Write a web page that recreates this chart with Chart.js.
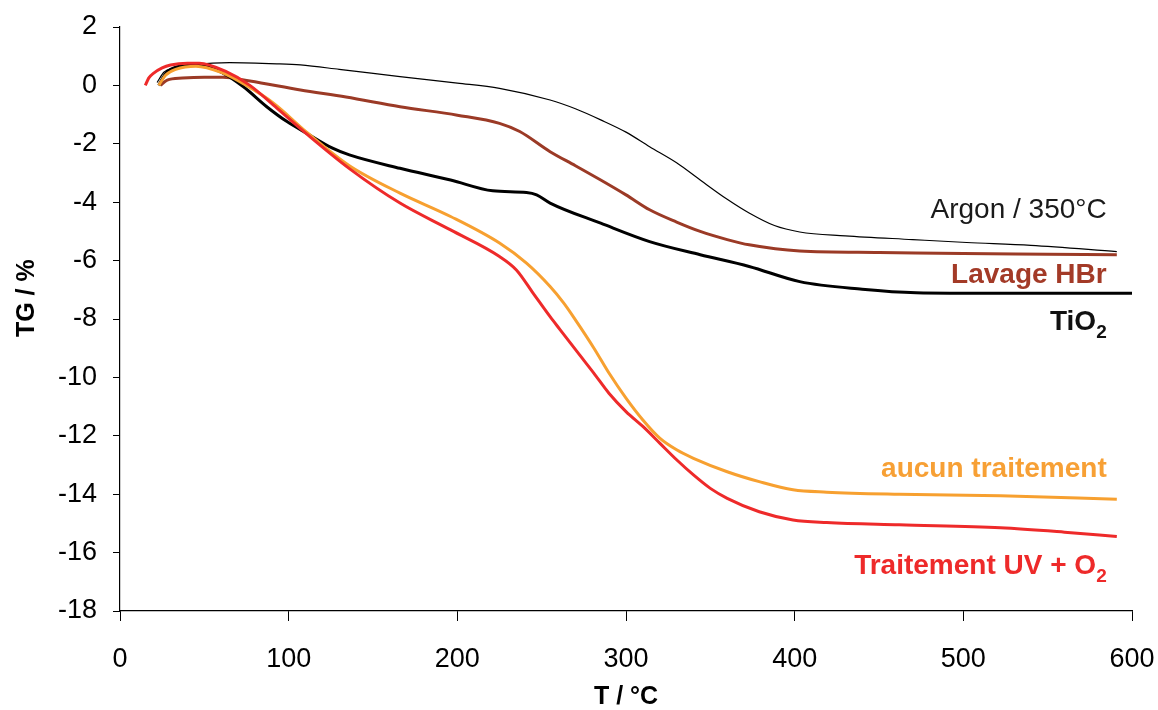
<!DOCTYPE html>
<html>
<head>
<meta charset="utf-8">
<script src="https://cdn.jsdelivr.net/npm/chart.js@4.4.1/dist/chart.umd.min.js"></script>
<style>
    html, body { margin: 0; padding: 0; background: #fff; }
    #wrap { width: 1158px; height: 710px; }
</style>
</head>
<body>
<div id="wrap"><canvas id="tgChart" width="1158" height="710"></canvas></div>
<script>
// temperatures (°C) and mass change (%)
const tempArgon = [22, 26, 32, 45, 65, 93, 107, 130, 166, 200, 225, 255, 270, 285, 300, 314, 330, 344, 360, 373, 388, 403, 430, 470, 502, 540, 591];
const tgArgon = [0.1, 0.45, 0.6, 0.72, 0.78, 0.74, 0.7, 0.55, 0.3, 0.08, -0.1, -0.5, -0.8, -1.18, -1.6, -2.1, -2.65, -3.24, -3.9, -4.37, -4.8, -5.02, -5.15, -5.28, -5.38, -5.48, -5.69];

const tempHBr = [24, 28, 37, 50, 61, 77, 107, 134, 166, 200, 225, 237, 255, 270, 285, 300, 314, 330, 344, 360, 373, 403, 450, 500, 550, 591];
const tgHBr = [0, 0.18, 0.25, 0.28, 0.28, 0.15, -0.16, -0.4, -0.73, -1.02, -1.3, -1.58, -2.27, -2.75, -3.24, -3.75, -4.26, -4.68, -5.0, -5.28, -5.46, -5.67, -5.72, -5.76, -5.78, -5.8];

const tempTiO2 = [23, 27, 34, 47, 61, 73, 87, 99, 111, 126, 136, 166, 196, 221, 241, 247, 255, 285, 314, 344, 373, 403, 440, 472, 520, 600];
const tgTiO2 = [0, 0.4, 0.64, 0.7, 0.42, -0.04, -0.73, -1.24, -1.65, -2.15, -2.38, -2.84, -3.24, -3.61, -3.67, -3.75, -4.03, -4.72, -5.35, -5.8, -6.2, -6.72, -6.98, -7.1, -7.12, -7.12];

const tempAucun = [23, 27, 33, 45, 60, 75, 91, 111, 136, 166, 196, 225, 241, 255, 263, 270, 281, 290, 300, 310, 320, 330, 340, 360, 379, 399, 419, 462, 522, 591];
const tgAucun = [0, 0.35, 0.55, 0.66, 0.45, 0, -0.61, -1.62, -2.75, -3.69, -4.49, -5.4, -6.09, -6.89, -7.45, -8.03, -9.0, -9.86, -10.71, -11.46, -12.08, -12.48, -12.77, -13.23, -13.57, -13.85, -13.93, -14.0, -14.05, -14.17];

const tempUV = [15, 17, 20, 25, 30, 40, 47, 63, 77, 93, 111, 136, 166, 196, 225, 235, 245, 255, 261, 271, 281, 290, 300, 310, 320, 330, 340, 350, 360, 379, 399, 419, 462, 522, 560, 591];
const tgUV = [0, 0.25, 0.42, 0.6, 0.7, 0.76, 0.76, 0.47, 0, -0.78, -1.68, -2.85, -4.03, -4.95, -5.86, -6.32, -7.12, -7.92, -8.37, -9.12, -9.86, -10.55, -11.17, -11.68, -12.25, -12.82, -13.34, -13.8, -14.14, -14.6, -14.88, -14.97, -15.05, -15.15, -15.3, -15.45];

const xTicks = [0, 100, 200, 300, 400, 500, 600];
const yTicks = [2, 0, -2, -4, -6, -8, -10, -12, -14, -16, -18];

function toPoints(xs, ys) {
    return xs.map((x, i) => ({ x: x, y: ys[i] }));
}

function series(label, xs, ys, color, width, order) {
    return {
        label: label,
        data: toPoints(xs, ys),
        borderColor: color,
        backgroundColor: color,
        borderWidth: width,
        pointRadius: 0,
        showLine: true,
        fill: false,
        cubicInterpolationMode: 'monotone',
        order: order
    };
}

// curve names written next to the lines, anchored in data units
const curveLabels = [
    { parts: [['Argon / 350°C', false]], x: 585, y: -4.54, color: '#1a1a1a', bold: false },
    { parts: [['Lavage HBr', false]], x: 585, y: -6.76, color: '#a33a27', bold: true },
    { parts: [['TiO', false], ['2', true]], x: 585, y: -8.37, color: '#111111', bold: true },
    { parts: [['aucun traitement', false]], x: 585, y: -13.42, color: '#f7a035', bold: true },
    { parts: [['Traitement UV + O', false], ['2', true]], x: 585, y: -16.72, color: '#ee2a2a', bold: true }
];

const labelPlugin = {
    id: 'curveLabels',
    afterDraw(chart) {
        const ctx = chart.ctx;
        const xs = chart.scales.x;
        const ys = chart.scales.y;
        ctx.save();
        ctx.textBaseline = 'alphabetic';
        ctx.textAlign = 'left';
        curveLabels.forEach(lab => {
            const weight = lab.bold ? 'bold ' : '';
            const big = weight + '28px "Liberation Sans", Arial, sans-serif';
            const small = weight + '19px "Liberation Sans", Arial, sans-serif';
            let total = 0;
            lab.parts.forEach(p => {
                ctx.font = p[1] ? small : big;
                total += ctx.measureText(p[0]).width;
            });
            let x = xs.getPixelForValue(lab.x) - total;
            const y = ys.getPixelForValue(lab.y);
            ctx.fillStyle = lab.color;
            lab.parts.forEach(p => {
                ctx.font = p[1] ? small : big;
                ctx.fillText(p[0], x, p[1] ? y + 8 : y);
                x += ctx.measureText(p[0]).width;
            });
        });
        ctx.restore();
    }
};

const ctx = document.getElementById('tgChart');
new Chart(ctx, {
    type: 'scatter',
    data: {
        datasets: [
            series('Traitement UV + O2', tempUV, tgUV, '#ee2a2a', 3, 1),
            series('aucun traitement', tempAucun, tgAucun, '#f7a030', 3, 2),
            series('TiO2', tempTiO2, tgTiO2, '#000000', 3, 3),
            series('Lavage HBr', tempHBr, tgHBr, '#9b3a26', 3, 4),
            series('Argon / 350°C', tempArgon, tgArgon, '#000000', 1.2, 5)
        ]
    },
    options: {
        responsive: false,
        animation: false,
        layout: { padding: { top: 27, right: 26, left: 0, bottom: 0 } },
        plugins: {
            legend: { display: false },
            tooltip: { enabled: false }
        },
        scales: {
            x: {
                type: 'linear',
                min: 0,
                max: 600,
                afterBuildTicks: axis => { axis.ticks = xTicks.map(v => ({ value: v })); },
                afterFit: axis => {
                    axis.height = 99;
                    axis.paddingLeft = 0;
                    axis.paddingRight = 0;
                },
                grid: { drawOnChartArea: false, drawTicks: true, tickLength: 10, color: '#000', lineWidth: 1 },
                border: { display: true, color: '#000', width: 1.2 },
                ticks: {
                    color: '#000',
                    padding: 22,
                    font: { family: '"Liberation Sans", Arial, sans-serif', size: 27 }
                },
                title: {
                    display: true,
                    text: 'T / °C',
                    color: '#000',
                    padding: { top: 0, bottom: 0 },
                    font: { family: '"Liberation Sans", Arial, sans-serif', size: 25, weight: 'bold', lineHeight: 1 }
                }
            },
            y: {
                type: 'linear',
                min: -18,
                max: 2,
                afterBuildTicks: axis => { axis.ticks = yTicks.map(v => ({ value: v })); },
                afterFit: axis => {
                    axis.width = 120;
                    axis.paddingTop = 0;
                    axis.paddingBottom = 0;
                },
                grid: { drawOnChartArea: false, drawTicks: true, tickLength: 7, color: '#000', lineWidth: 1 },
                border: { display: true, color: '#000', width: 1.2 },
                ticks: {
                    color: '#000',
                    padding: 16,
                    font: { family: '"Liberation Sans", Arial, sans-serif', size: 27 }
                },
                title: {
                    display: true,
                    // leading spaces push the visible text up the axis, as in the original
                    text: '      TG / %',
                    color: '#000',
                    padding: { top: 15, bottom: 0 },
                    font: { family: '"Liberation Sans", Arial, sans-serif', size: 25, weight: 'bold', lineHeight: 1 }
                }
            }
        }
    },
    plugins: [labelPlugin]
});
</script>
</body>
</html>
